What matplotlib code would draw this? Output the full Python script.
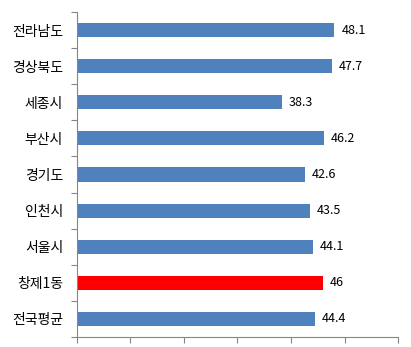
import matplotlib.pyplot as plt
import numpy as np

plt.rcParams['font.family'] = ['Noto Sans CJK KR', 'DejaVu Sans']

regions = ['전라남도', '경상북도', '세종시', '부산시', '경기도', '인천시', '서울시', '창제1동', '전국평균']
values = [48.1, 47.7, 38.3, 46.2, 42.6, 43.5, 44.1, 46, 44.4]
highlight = '창제1동'

fig = plt.figure(figsize=(4.11, 3.47), dpi=100)
ax = fig.add_axes([0.1873, 0.0288, 0.7811, 0.9366])

colors = ['#FF0000' if r == highlight else '#4F81BD' for r in regions]
y = np.arange(len(regions))
ax.barh(y, values, height=0.39, color=colors)

for yi, v in zip(y, values):
    ax.annotate(f'{v:g}', (v, yi), xytext=(5, 0), textcoords='offset points',
                va='center', ha='left', fontsize=9, color='black')

ax.set_xlim(0, 60)
ax.set_ylim(len(regions) - 0.5, -0.5)
ax.set_xticks(range(0, 61, 10))
ax.set_xticklabels([])

# tick marks between categories, labels at centers
ax.set_yticks(np.arange(-0.5, len(regions), 1))
ax.set_yticklabels([])
ax.set_yticks(y, minor=True)
ax.set_yticklabels(regions, minor=True, fontsize=10)
ax.tick_params(axis='y', which='minor', length=0, pad=10)
ax.tick_params(axis='both', which='major', length=4, color='#868686', direction='out')

for s in ['top', 'right']:
    ax.spines[s].set_visible(False)
for s in ['left', 'bottom']:
    ax.spines[s].set_color('#868686')

fig.savefig('out.png', dpi=100)
